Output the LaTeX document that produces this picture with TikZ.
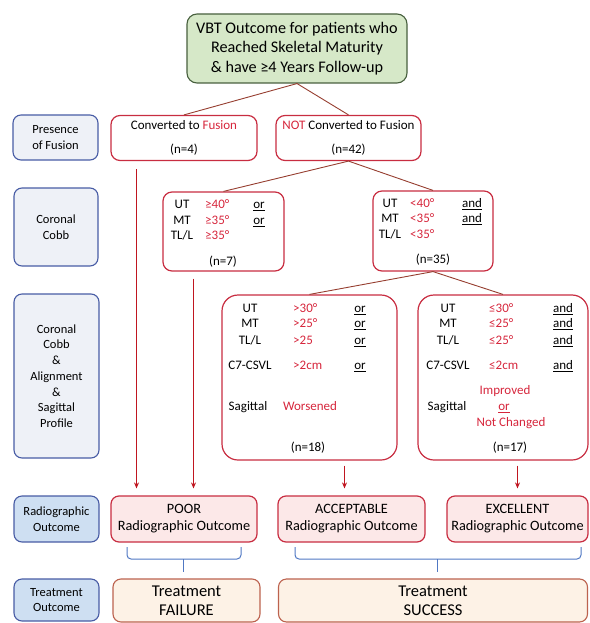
\documentclass[tikz,border=0pt]{standalone}
\usepackage{fontspec}
\setmainfont{Carlito}
\usetikzlibrary{arrows.meta}

\definecolor{boxred}{RGB}{200,45,65}
\definecolor{txtred}{RGB}{214,38,60}
\definecolor{linkbrown}{RGB}{150,62,48}
\definecolor{arrred}{RGB}{192,22,32}
\definecolor{labblue}{RGB}{72,92,165}
\definecolor{labfill}{RGB}{238,241,247}
\definecolor{labfilldark}{RGB}{206,223,242}
\definecolor{titlefill}{RGB}{214,232,200}
\definecolor{titleline}{RGB}{72,96,62}
\definecolor{outfill}{RGB}{252,232,232}
\definecolor{trtfill}{RGB}{253,242,230}
\definecolor{trtline}{RGB}{188,98,78}
\definecolor{bracblue}{RGB}{80,120,195}

\newcommand{\redtxt}[1]{\textcolor{txtred}{#1}}

\tikzset{
  lab/.style={draw=labblue, line width=1.1pt, fill=labfill, rounded corners=8pt,
    align=center, inner sep=0pt, font=\fontsize{12.5}{15.7}\selectfont},
  labdark/.style={lab, fill=labfilldark},
  titlebox/.style={draw=titleline, line width=1.1pt, fill=titlefill, rounded corners=10pt,
    align=center, inner sep=0pt, font=\fontsize{16.2}{19.5}\selectfont},
  grp/.style={draw=boxred, line width=1.2pt, rounded corners=9pt, align=center, inner sep=0pt},
  bigbox/.style={grp, rounded corners=16pt},
  outbox/.style={grp, fill=outfill, rounded corners=8pt, font=\fontsize{14.3}{17}\selectfont},
  trtbox/.style={draw=trtline, line width=1.1pt, fill=trtfill, rounded corners=8pt,
    align=center, inner sep=0pt, font=\fontsize{16.5}{19}\selectfont},
  crit/.style={inner sep=0pt, text height=8.5pt, text depth=0pt},
  link/.style={draw=linkbrown, line width=0.9pt},
  rarr/.style={draw=arrred, line width=1.3pt, -{Stealth[length=6pt,width=5pt]}, shorten >=7pt},
  brac/.style={draw=bracblue, line width=1pt, rounded corners=4pt}
}

\begin{document}
\begin{tikzpicture}[x=1pt, y=-1pt, font=\fontsize{13}{15.6}\selectfont]
  \useasboundingbox (0,0) rectangle (589,623);

  % title
  \node[titlebox, minimum width=220pt, minimum height=69pt] (title) at (297,48.5)
    {VBT Outcome for patients who\\Reached Skeletal Maturity\\\& have ≥4 Years Follow-up};

  % row labels
  \node[lab, minimum width=85pt, minimum height=45pt] (labfus) at (55.5,137.5) {Presence\\of Fusion};
  \node[lab, minimum width=84pt, minimum height=78pt] (labcobb) at (56,227) {Coronal\\Cobb};
  \node[lab, minimum width=85pt, minimum height=164pt] (labalign) at (56.5,376)
    {Coronal\\Cobb\\\&\\Alignment\\\&\\Sagittal\\Profile};
  \node[labdark, minimum width=85pt, minimum height=46pt] (labradio) at (56.5,519) {Radiographic\\Outcome};
  \node[labdark, minimum width=85pt, minimum height=42pt] (labtreat) at (56.5,600) {Treatment\\Outcome};

  % presence of fusion
  \node[grp, minimum width=146pt, minimum height=45pt] (conv) at (184,138)
    {Converted to \redtxt{Fusion}\\[8pt](n=4)};
  \node[grp, minimum width=145pt, minimum height=45pt] (notc) at (348.5,138)
    {\redtxt{NOT} Converted to Fusion\\[8pt](n=42)};

  % coronal cobb
  \node[grp, minimum width=121pt, minimum height=79pt] (n7) at (223.5,231.5) {};
  \node[grp, minimum width=120pt, minimum height=80pt] (n35) at (433,231) {};
  \foreach \k/\y/\a/\v/\c in {1/204/UT/≥40°/or, 2/220/MT/≥35°/or, 3/235/{TL/L}/≥35°/{}} {
    \node[crit] (n7a\k) at (182,\y) {\a};
    \node[crit, anchor=west] (n7v\k) at (205,\y) {\redtxt{\v}};
    \node[crit] (n7c\k) at (259,\y) {\underline{\c}};
  }
  \node[crit] (n7n) at (223,261) {(n=7)};
  \foreach \k/\y/\a/\v/\c in {1/203/UT/<40°/and, 2/218/MT/<35°/and, 3/234/{TL/L}/<35°/{}} {
    \node[crit] (n35a\k) at (390,\y) {\a};
    \node[crit, anchor=west] (n35v\k) at (410,\y) {\redtxt{\v}};
    \node[crit] (n35c\k) at (472,\y) {\underline{\c}};
  }
  \node[crit] (n35n) at (433,259) {(n=35)};

  % alignment and sagittal profile
  \node[bigbox, minimum width=175pt, minimum height=165pt] (n18) at (309.5,377.5) {};
  \node[bigbox, minimum width=170pt, minimum height=165pt] (n17) at (503,377.5) {};
  \foreach \k/\y/\a/\v in {1/308/UT/>30°, 2/323/MT/>25°, 3/340/{TL/L}/>25, 4/365/C7-CSVL/>2cm} {
    \node[crit] (n18a\k) at (250,\y) {\a};
    \node[crit, anchor=west] (n18v\k) at (293,\y) {\redtxt{\v}};
    \node[crit] (n18c\k) at (360,\y) {\underline{or}};
  }
  \node[crit] (n18s) at (248,406) {Sagittal};
  \node[crit] (n18w) at (310,406) {\redtxt{Worsened}};
  \node[crit] (n18n) at (308,447) {(n=18)};
  \foreach \k/\y/\a/\v in {1/308/UT/≤30°, 2/323/MT/≤25°, 3/340/{TL/L}/≤25°, 4/365/C7-CSVL/≤2cm} {
    \node[crit] (n17a\k) at (448,\y) {\a};
    \node[crit, anchor=west] (n17v\k) at (489,\y) {\redtxt{\v}};
    \node[crit] (n17c\k) at (563,\y) {\underline{and}};
  }
  \node[crit] (n17s) at (447,406) {Sagittal};
  \node[crit] (n17i) at (505,390) {\redtxt{Improved}};
  \node[crit] (n17o) at (504,406) {\redtxt{\underline{or}}};
  \node[crit] (n17u) at (511,422) {\redtxt{Not Changed}};
  \node[crit] (n17n) at (510,447) {(n=17)};

  % radiographic outcome
  \node[outbox, minimum width=146pt, minimum height=46pt] (poor) at (184,519) {POOR\\Radiographic Outcome};
  \node[outbox, minimum width=147pt, minimum height=46pt] (acc) at (351.5,519) {ACCEPTABLE\\Radiographic Outcome};
  \node[outbox, minimum width=141pt, minimum height=46pt] (exc) at (517.5,519) {EXCELLENT\\Radiographic Outcome};

  % treatment outcome
  \node[trtbox, minimum width=147pt, minimum height=43pt] (fail) at (186.5,600.5) {Treatment\\FAILURE};
  \node[trtbox, minimum width=309pt, minimum height=43pt] (succ) at (433,600.5) {Treatment\\SUCCESS};

  % tree lines
  \draw[link] (title.south) -- (conv.north);
  \draw[link] (title.south) -- (notc.north);
  \draw[link] (notc.south) -- (n7.north);
  \draw[link] (notc.south) -- (n35.north);
  \draw[link] (n35.south) -- (n18.north);
  \draw[link] (n35.south) -- (n17.north);

  % arrows down to outcomes
  \coordinate (a1) at ([xshift=-47.5pt,yshift=-8pt]conv.south);
  \coordinate (a2) at ([xshift=-30pt,yshift=-7pt]n7.south);
  \coordinate (a3) at ([xshift=35pt,yshift=-5pt]n18.south);
  \coordinate (a4) at ([xshift=14.5pt,yshift=-5pt]n17.south);
  \draw[rarr] (a1) -- (a1 |- poor.north);
  \draw[rarr] (a2) -- (a2 |- poor.north);
  \draw[rarr] (a3) -- (a3 |- acc.north);
  \draw[rarr] (a4) -- (a4 |- exc.north);

  % braces
  \coordinate (b1l) at (127,547);
  \coordinate (b1m) at (183,559);
  \coordinate (b1r) at (241,547);
  \draw[brac] (b1l) |- (b1m) -| (b1r);
  \draw[brac, shorten >=6pt] (b1m) -- (b1m |- fail.north);
  \coordinate (b2l) at (295,547);
  \coordinate (b2m) at (437,559);
  \coordinate (b2r) at (581,547);
  \draw[brac] (b2l) |- (b2m) -| (b2r);
  \draw[brac, shorten >=6pt] (b2m) -- (b2m |- succ.north);
\end{tikzpicture}
\end{document}
